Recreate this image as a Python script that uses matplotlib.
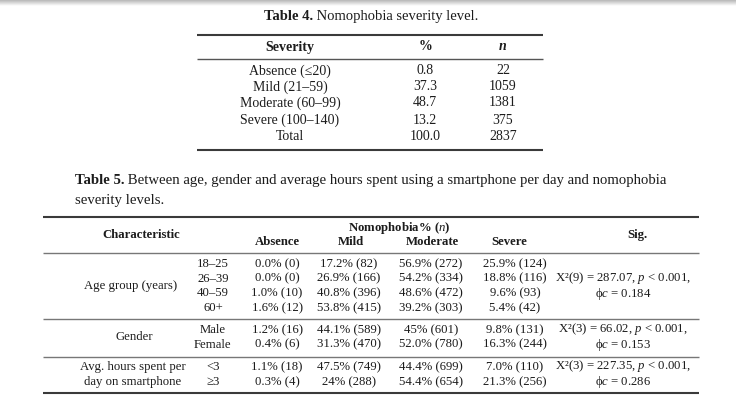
import numpy as np
import matplotlib
matplotlib.use("Agg")
import matplotlib.pyplot as plt

plt.rcParams['font.family'] = ['Liberation Serif', 'DejaVu Serif']
plt.rcParams['mathtext.fontset'] = 'custom'
plt.rcParams['mathtext.rm'] = 'Liberation Serif'
plt.rcParams['mathtext.it'] = 'Liberation Serif:italic'
plt.rcParams['mathtext.bf'] = 'Liberation Serif:bold'

# ---- Table 4 data
t4_levels = ['Absence (≤20)', 'Mild (21–59)', 'Moderate (60–99)', 'Severe (100–140)', 'Total']
t4_pct = ['0.8', '37.3', '48.7', '13.2', '100.0']
t4_n = ['22', '1059', '1381', '375', '2837']

# ---- Table 5 data
t5_cols = ['Absence', 'Mild', 'Moderate', 'Severe']
t5_groups = ['Age group (years)', 'Gender', 'Avg. hours spent per\nday on smartphone']
t5_sub = [['18–25', '26–39', '40–59', '60+'], ['Male', 'Female'], ['<3', '≥3']]
t5_absence = [['0.0% (0)', '0.0% (0)', '1.0% (10)', '1.6% (12)'], ['1.2% (16)', '0.4% (6)'], ['1.1% (18)', '0.3% (4)']]
t5_mild = [['17.2% (82)', '26.9% (166)', '40.8% (396)', '53.8% (415)'], ['44.1% (589)', '31.3% (470)'], ['47.5% (749)', '24% (288)']]
t5_moderate = [['56.9% (272)', '54.2% (334)', '48.6% (472)', '39.2% (303)'], ['45% (601)', '52.0% (780)'], ['44.4% (699)', '54.4% (654)']]
t5_severe = [['25.9% (124)', '18.8% (116)', '9.6% (93)', '5.4% (42)'], ['9.8% (131)', '16.3% (244)'], ['7.0% (110)', '21.3% (256)']]
t5_chi_df = ['9', '3', '3']
t5_chi = ['287.07', '66.02', '227.35']
t5_phi = ['0.184', '0.153', '0.286']

TXT = '#1c1c1c'
fig = plt.figure(figsize=(7.36, 4.08), dpi=100)
ax = fig.add_axes([0, 0, 1, 1])

# faint grey band at the very top (screenshot edge)
grad = np.linspace(0.72, 1.0, 20).reshape(-1, 1)
ax.imshow(grad, cmap='gray', vmin=0, vmax=1, extent=[0, 736, 6, 0], aspect='auto', zorder=0)
ax.set_xlim(0, 736)
ax.set_ylim(408, 0)
ax.axis('off')


def txt(x, y, s, size, ha='center', weight='normal', **kw):
    return ax.text(x, y, s, fontsize=size, ha=ha, va='center', color=TXT, weight=weight, **kw)


def rule(y, x0, x1, lw=1.2, color='#3a3a3a'):
    ax.plot([x0, x1], [y, y], color=color, lw=lw, solid_capstyle='butt')


def title(x, y, bold, rest, size):
    t = ax.text(x, y, bold, fontsize=size, weight='bold', ha='left', va='baseline', color=TXT)
    ax.annotate(rest, xy=(1, 0), xycoords=t, fontsize=size, va='bottom', ha='left', color=TXT)
    return t


# ---- Table 4
F4 = 10
FT4 = 10.5
fig.canvas.draw()
t = ax.text(0, 0, 'Table 4. Nomophobia severity level.', fontsize=FT4)
w = t.get_window_extent().width
t.remove()
title(370 - w / 2, 20, 'Table 4.', ' Nomophobia severity level.', FT4)
rule(35, 197, 543, lw=1.5)
txt(290, 47, 'Severity', F4, weight='bold')
txt(425, 47, '%', F4, weight='bold')
txt(503, 47, 'n', F4, weight='bold', style='italic')
rule(59, 197, 543, lw=1.0, color='#555555')
y4 = [71, 87, 103, 120, 136]
for i in range(len(t4_levels)):
    txt(290, y4[i], t4_levels[i], F4)
    txt(425, y4[i], t4_pct[i], F4)
    txt(503, y4[i], t4_n[i], F4)
rule(150, 197, 543, lw=1.5)

# ---- Table 5
F5 = 9.2
FT5 = 10.6
title(75, 184, 'Table 5.', ' Between age, gender and average hours spent using a smartphone per day and nomophobia', FT5)
ax.text(75, 204, 'severity levels.', fontsize=FT5, ha='left', va='baseline', color=TXT)

X0, X1 = 43, 699
rule(217, X0, X1, lw=1.5)
txt(141, 235, 'Characteristic', F5, weight='bold')
txt(399, 228, r'Nomophobia% ($\mathbf{\mathit{n}}$)', F5, weight='bold')
hdr_x = [277, 351, 432, 509]
for x, c in zip(hdr_x, t5_cols):
    txt(x, 242, c, F5, weight='bold')
txt(637, 235, 'Sig.', F5, weight='bold')
rule(253, X0, X1, lw=1.0, color='#777777')

col_x = [277, 349, 431, 515]
sub_x = 213
sig_x = 623
row_y = [[264, 278.5, 293, 308], [330, 344.5], [367, 382]]
grp_x = [131, 134, 133]
cols = [t5_absence, t5_mild, t5_moderate, t5_severe]
for g in range(len(t5_groups)):
    ys = row_y[g]
    ymid = (ys[0] + ys[-1]) / 2
    txt(grp_x[g], ymid, t5_groups[g], F5, linespacing=1.25)
    for r, y in enumerate(ys):
        txt(sub_x, y, t5_sub[g][r], F5)
        for c in range(4):
            txt(col_x[c], y, cols[c][g][r], F5)
    sig = 'X²(%s) = %s, $p$ < 0.001,\nϕ$c$ = %s' % (t5_chi_df[g], t5_chi[g], t5_phi[g])
    txt(sig_x, ymid, sig, F5, linespacing=1.0)
    if g < len(t5_groups) - 1:
        rule(ys[-1] + 10.5 if g == 0 else ys[-1] + 12.5, X0, X1, lw=1.0, color='#777777')
rule(393, X0, X1, lw=1.5)

fig.savefig('out.png', dpi=100)
